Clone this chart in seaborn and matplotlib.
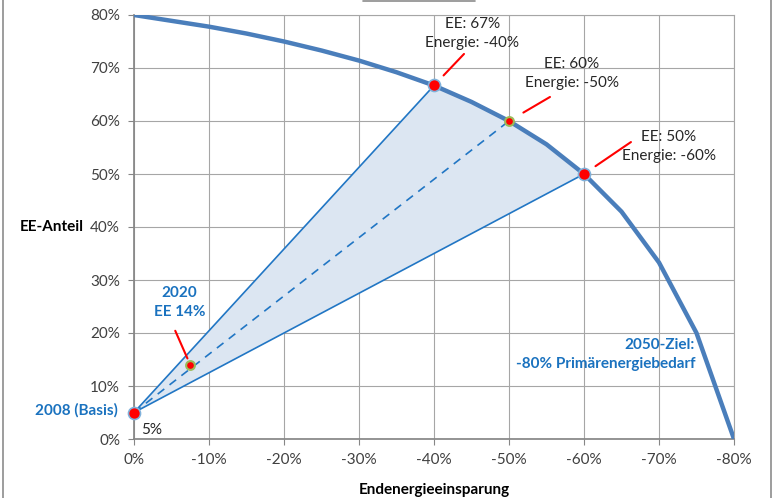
import matplotlib
matplotlib.use('Agg')
import matplotlib.pyplot as plt
import seaborn as sns
import pandas as pd
from matplotlib.lines import Line2D

# Endenergieeinsparung (%) und EE-Anteil (%) auf der -80%-Primaerenergie-Kurve
savings = [0, 5, 10, 15, 20, 25, 30, 35, 40, 45, 50, 55, 60, 65, 70, 75, 80]
ee_share = [80, 78.9, 77.8, 76.5, 75.0, 73.3, 71.4, 69.2, 66.7, 63.6, 60.0, 55.6, 50.0, 42.9, 33.3, 20.0, 0]

base_x, base_y = 0, 5
target_x = [40, 50, 60]
target_y = [66.7, 60, 50]
y2020_x, y2020_y = 7.5, 14

x_ticks = [0, 10, 20, 30, 40, 50, 60, 70, 80]
y_ticks = [0, 10, 20, 30, 40, 50, 60, 70, 80]
x_ticklabels = ['0%', '-10%', '-20%', '-30%', '-40%', '-50%', '-60%', '-70%', '-80%']
y_ticklabels = ['0%', '10%', '20%', '30%', '40%', '50%', '60%', '70%', '80%']
target_labels = ['EE: 67%\nEnergie: -40%', 'EE: 60%\nEnergie: -50%', 'EE: 50%\nEnergie: -60%']

CURVE = '#4a7ebb'
LINE = '#2176c4'
LABEL = '#1a72bf'
FILL = '#dce6f2'
GRID = '#a6a6a6'

sns.set_theme(style='white')
plt.rcParams['font.family'] = ['Lato', 'DejaVu Sans']

fig = plt.figure(figsize=(7.72, 4.98), dpi=100)
ax = fig.add_axes([134 / 772, 59 / 498, 600 / 772, 424 / 498])

# Flaeche zwischen Basis und Zielkorridor
curve = pd.DataFrame({'x': savings, 'y': ee_share})
seg = curve[(curve.x >= target_x[0]) & (curve.x <= target_x[2])]
poly_x = [base_x] + list(seg.x) + [base_x]
poly_y = [base_y] + list(seg.y) + [base_y]
ax.fill(poly_x, poly_y, color=FILL, zorder=1, lw=0)

# Verbindungslinien
for tx, ty, ls in zip(target_x, target_y, ['-', '--', '-']):
    ax.plot([base_x, tx], [base_y, ty], color=LINE, lw=1.2, ls=ls, zorder=2,
            dashes=(5, 4) if ls == '--' else (None, None))

sns.lineplot(data=curve, x='x', y='y', ax=ax, color=CURVE, lw=3.2, zorder=3)

big = pd.DataFrame({'x': [base_x, target_x[0], target_x[2]], 'y': [base_y, target_y[0], target_y[2]]})
small = pd.DataFrame({'x': [target_x[1], y2020_x], 'y': [target_y[1], y2020_y]})
sns.scatterplot(data=big, x='x', y='y', ax=ax, s=75, color='#ff0000', edgecolor='#7fb2dc',
                linewidth=1.2, zorder=5, clip_on=False)
sns.scatterplot(data=small, x='x', y='y', ax=ax, s=40, color='#ff0000', edgecolor='#9bbb59',
                linewidth=1.5, zorder=5)

# Beschriftungen
text_pos = [(45.1, 76.5), (58.4, 68.9), (71.3, 55.1)]
line_off = [(21.6, 22.7, 10), (29.5, 17.3, 12), (33.8, 23.0, 10)]
for (px, py), lab, (tx, ty), (dx, dy, sh) in zip(text_pos, target_labels, zip(target_x, target_y), line_off):
    ax.text(px, py, lab, ha='center', va='center', fontsize=11, color='#262626',
            linespacing=1.45, zorder=6)
    ax.annotate('', xy=(tx, ty), xytext=(dx, dy), textcoords='offset points',
                arrowprops=dict(arrowstyle='-', color='#ff0000', lw=1.5, shrinkA=0, shrinkB=sh))

ax.annotate('', xy=(y2020_x, y2020_y), xytext=(-10.8, 24.5), textcoords='offset points',
            arrowprops=dict(arrowstyle='-', color='#ff0000', lw=1.5, shrinkA=0, shrinkB=5))
ax.text(6.1, 25.7, '2020\nEE 14%', ha='center', va='center', fontsize=11, fontweight='bold',
        color=LABEL, linespacing=1.45)
ax.text(-2.1, 5.5, '2008 (Basis)', ha='right', va='center', fontsize=11, fontweight='bold', color=LABEL)
ax.text(0.9, 1.7, '5%', ha='left', va='center', fontsize=11, color='#262626')
ax.text(74.8, 15.9, '2050-Ziel:\n-80% Primärenergiebedarf', ha='right', va='center', fontsize=11,
        fontweight='bold', color=LABEL, linespacing=1.45, multialignment='right')

ax.set_xlim(0, 80)
ax.set_ylim(0, 80)
ax.set_xticks(x_ticks)
ax.set_xticklabels(x_ticklabels)
ax.set_yticks(y_ticks)
ax.set_yticklabels(y_ticklabels)
ax.grid(True, color=GRID, lw=0.8)
ax.set_axisbelow(True)
ax.tick_params(axis='both', labelsize=11, colors='#404040', length=4, width=0.8, direction='out',
               pad=6, left=True, bottom=True)
ax.tick_params(axis='both', color='#868686')
for side in ['left', 'bottom']:
    ax.spines[side].set_color('#868686')
for side in ['top', 'right']:
    ax.spines[side].set_color(GRID)
    ax.spines[side].set_linewidth(0.8)

ax.set_xlabel('Endenergieeinsparung', fontsize=11, fontweight='bold', color='#000000', va='center')
ax.xaxis.set_label_coords(0.5, -0.12)
ax.set_ylabel('EE-Anteil', fontsize=11, fontweight='bold', color='#000000', rotation=0,
              ha='center', va='center')
ax.yaxis.set_label_coords(-0.137, 0.5)

# Rahmen der Grafik
fig.add_artist(Line2D([2.5 / 772, 2.5 / 772], [0, 1], color='#8c8c8c', lw=1.2))
fig.add_artist(Line2D([770.5 / 772, 770.5 / 772], [0, 1], color='#8c8c8c', lw=1.2))
fig.add_artist(Line2D([363 / 772, 475 / 772], [497 / 498, 497 / 498], color='#8c8c8c', lw=1.2))

fig.savefig('out.png', dpi=100)
plt.close(fig)
